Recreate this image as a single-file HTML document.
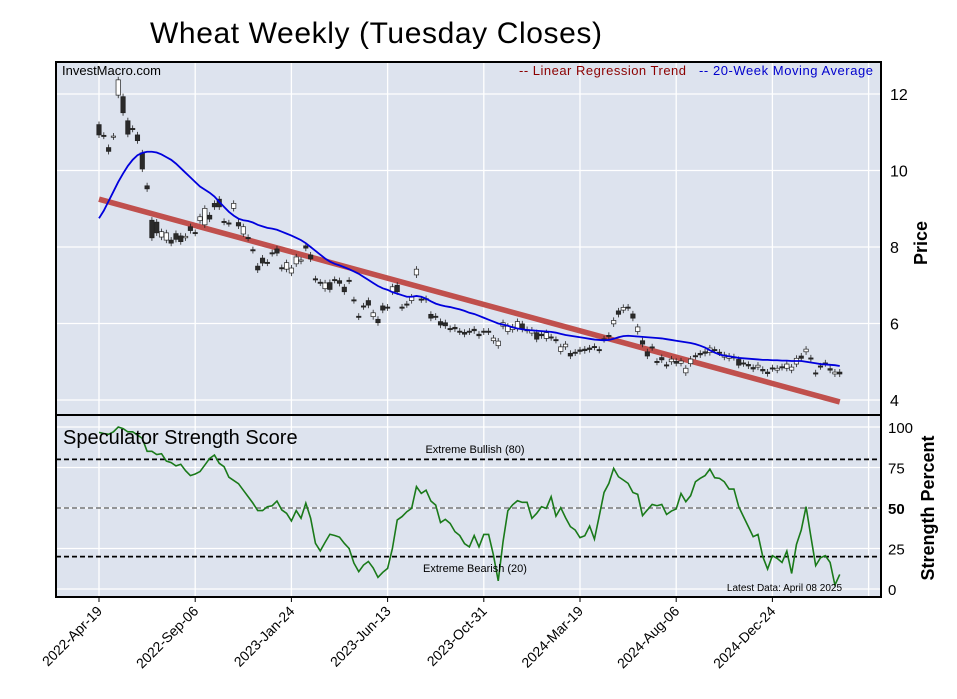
<!DOCTYPE html>
<html><head><meta charset="utf-8"><style>
body{margin:0;background:#fff;}
svg text{font-family:"Liberation Sans",sans-serif;}
</style></head><body>
<svg id="chart" width="957" height="694" xmlns="http://www.w3.org/2000/svg">
<text x="150" y="43" font-size="30" fill="#000" textLength="452">Wheat Weekly (Tuesday Closes)</text>
<g id="top">
<rect x="56" y="62" width="825" height="353" fill="#dde3ee"/>
<g id="topgrid"></g><g id="reg"></g><g id="candles"></g><g id="ma"></g>
<rect x="56" y="62" width="825" height="353" fill="none" stroke="#000" stroke-width="2"/>
<text x="62" y="75" font-size="13">InvestMacro.com</text>
<text x="519" y="75" font-size="13" fill="#8b0000" textLength="167">-- Linear Regression Trend</text>
<text x="699" y="75" font-size="13" fill="#0000cc" textLength="174">-- 20-Week Moving Average</text>
<text transform="translate(927,243) rotate(-90)" text-anchor="middle" font-size="18" font-weight="bold">Price</text>
</g>
<g id="bot">
<rect x="56" y="415" width="825" height="182" fill="#dde3ee"/>
<g id="botgrid"></g><g id="str"></g>
<rect x="56" y="415" width="825" height="182" fill="none" stroke="#000" stroke-width="2"/>
<text x="63" y="444" font-size="20">Speculator Strength Score</text>
<text x="475" y="453" font-size="11" text-anchor="middle">Extreme Bullish (80)</text>
<text x="475" y="572" font-size="11" text-anchor="middle">Extreme Bearish (20)</text>
<text x="842" y="591" font-size="10" text-anchor="end">Latest Data: April 08 2025</text>
<text transform="translate(934,508) rotate(-90)" text-anchor="middle" font-size="18" font-weight="bold">Strength Percent</text>
</g>
<g id="xaxis"></g>
</svg>
<script>
const xLabels=["2022-Apr-19","2022-Sep-06","2023-Jan-24","2023-Jun-13","2023-Oct-31","2024-Mar-19","2024-Aug-06","2024-Dec-24"];
const xLabelWeeks=[0,20,40,60,80,100,120,140];
const priceTicks=[4,6,8,10,12];
const strengthTicks=[0,25,50,75,100];
const opens=[11.2,10.92,10.6,10.88,11.97,11.93,11.3,11.1,10.93,10.46,9.6,8.7,8.65,8.26,8.18,8.18,8.35,8.29,8.24,8.53,8.38,8.69,8.58,8.83,9.14,9.25,8.67,8.63,9.01,8.64,8.34,8.25,7.93,7.5,7.71,7.6,7.85,7.95,7.46,7.42,7.32,7.56,7.63,8.03,7.79,7.17,7.08,6.91,7.07,7.15,7.12,6.95,7.13,6.62,6.19,6.46,6.6,6.18,6.11,6.46,6.43,6.83,7.0,6.43,6.51,6.6,7.27,6.64,6.62,6.24,6.19,6.05,6.02,5.87,5.9,5.8,5.77,5.8,5.85,5.72,5.8,5.8,5.55,5.42,5.93,5.79,5.84,5.87,5.99,5.84,5.75,5.76,5.72,5.61,5.65,5.58,5.27,5.39,5.22,5.25,5.31,5.33,5.36,5.4,5.32,5.6,5.69,5.99,6.33,6.35,6.43,6.25,5.79,5.55,5.26,5.39,5.01,5.11,4.92,5.0,5.01,4.96,4.71,4.95,5.16,5.22,5.26,5.24,5.32,5.25,5.12,5.09,5.13,5.06,4.97,4.93,4.85,4.86,4.8,4.73,4.84,4.78,4.87,4.83,4.78,4.94,5.15,5.26,5.1,4.71,4.89,4.97,4.82,4.68,4.73];
const closes=[10.93,10.9,10.5,10.9,12.37,11.51,10.95,11.08,10.78,10.04,9.52,8.24,8.37,8.4,8.37,8.1,8.2,8.14,8.28,8.43,8.36,8.79,9.01,8.73,9.05,9.05,8.65,8.61,9.14,8.55,8.53,8.23,7.91,7.4,7.58,7.58,7.83,7.84,7.44,7.59,7.45,7.74,7.66,7.97,7.69,7.15,7.06,7.06,6.89,7.13,7.05,6.83,7.11,6.6,6.17,6.44,6.48,6.28,6.02,6.35,6.41,6.96,6.83,6.41,6.49,6.69,7.42,6.62,6.65,6.14,6.17,5.96,5.94,5.85,5.86,5.78,5.72,5.78,5.81,5.68,5.78,5.78,5.62,5.54,6.02,5.93,5.91,6.05,5.85,5.82,5.83,5.59,5.68,5.76,5.63,5.56,5.39,5.46,5.15,5.23,5.27,5.29,5.32,5.38,5.3,5.58,5.67,6.08,6.24,6.42,6.41,6.14,5.91,5.46,5.15,5.37,4.99,5.05,4.9,5.07,4.96,5.02,4.83,5.07,5.14,5.18,5.22,5.36,5.3,5.23,5.18,5.15,5.11,4.91,4.95,4.89,4.81,4.91,4.76,4.69,4.82,4.83,4.85,4.94,4.86,5.09,5.09,5.33,5.08,4.69,4.87,4.95,4.78,4.73,4.68];
const maValues=[8.75,8.95,9.2,9.45,9.7,9.92,10.12,10.28,10.4,10.46,10.49,10.49,10.47,10.42,10.35,10.28,10.18,10.06,9.94,9.82,9.7,9.58,9.5,9.42,9.32,9.18,9.05,8.92,8.82,8.74,8.7,8.68,8.64,8.58,8.54,8.5,8.48,8.45,8.4,8.35,8.3,8.24,8.18,8.1,8.0,7.9,7.8,7.7,7.62,7.56,7.52,7.47,7.42,7.36,7.3,7.22,7.14,7.06,6.98,6.92,6.88,6.82,6.78,6.74,6.7,6.7,6.72,6.7,6.65,6.58,6.52,6.48,6.45,6.43,6.4,6.37,6.33,6.28,6.25,6.2,6.15,6.1,6.05,6.0,5.97,5.94,5.9,5.87,5.85,5.83,5.82,5.81,5.8,5.79,5.78,5.76,5.73,5.7,5.68,5.66,5.64,5.62,5.6,5.58,5.57,5.56,5.57,5.6,5.64,5.67,5.68,5.67,5.66,5.65,5.64,5.63,5.62,5.61,5.59,5.57,5.55,5.53,5.51,5.49,5.46,5.42,5.37,5.3,5.24,5.19,5.16,5.14,5.12,5.1,5.09,5.08,5.07,5.06,5.05,5.05,5.04,5.04,5.03,5.03,5.02,5.02,5.02,5.0,4.98,4.96,4.94,4.93,4.92,4.91,4.89];
const regressionEnds=[9.25,3.95];
const strength=[96.7,96,95.5,97,100,99,97,97,95,93,85,85,83,83.5,79,78,76,77,73,70,71,72.5,76.5,80.6,82.7,77.6,75.5,69,67,65,61,57,53,48.4,48.4,50.8,51.4,54.3,48.8,46.7,42,48.4,43.7,53,43.7,28.2,23.5,28.8,33.8,33,32,28.2,25,16,10.7,14.8,17,13,7.2,10.3,12.7,25,42.6,44.7,47.7,49.8,63.2,59,61,54.3,51.8,41,43,40.5,35.4,33,28,26,33,26,33.7,33.7,21,5,29.2,48.3,52,54.5,53.5,53.5,43.6,46.7,50.8,49.8,57,45,50.2,44,38.5,36.4,31.7,32.9,38.9,30.8,45,59.6,65.2,74.5,69.3,67.3,65.2,59.6,58.4,45.3,48.8,52.2,51.4,52.2,46,48.1,49.4,59,53.9,57.6,66.2,68.3,70,74,68.7,68.3,66.2,61.7,61.7,50.8,44.6,38.5,32.3,33.7,20,12.3,20.6,18.9,16.4,23.4,9.6,27.5,36.4,50.8,32.3,14.4,19.3,20.6,16.4,2.4,9];
const extremeLevels=[80,20];

const NS="http://www.w3.org/2000/svg";
const xs=i=>99+4.81*i;
const yp=p=>400-(p-4)*38.25;
const ys=s=>589-s*1.62;
function mk(parent,tag,attrs){const e=document.createElementNS(NS,tag);for(const k in attrs)e.setAttribute(k,attrs[k]);(typeof parent==='string'?document.getElementById(parent):parent).appendChild(e);return e;}
const svg=document.getElementById('chart');
xLabelWeeks.forEach((w,k)=>{
  let l=mk('topgrid','line',{x1:xs(w),x2:xs(w),y1:62,y2:415,stroke:'#fff','stroke-width':1.3});
  
  
  let l2=mk('botgrid','line',{x1:xs(w),x2:xs(w),y1:415,y2:597,stroke:'#fff','stroke-width':1.3});
  
  
  let t=mk('xaxis','text',{'font-size':14,'text-anchor':'end',transform:`translate(${xs(w)+4},${612}) rotate(-45)`});
  t.textContent=xLabels[k];
  
  
  let tk=mk('xaxis','line',{x1:xs(w),x2:xs(w),y1:597,y2:602,stroke:'#000'});
  
  
});
[xs(160)].forEach(x=>{mk('topgrid','line',{x1:x,x2:x,y1:62,y2:415,stroke:'#fff','stroke-width':1.3});mk('botgrid','line',{x1:x,x2:x,y1:415,y2:597,stroke:'#fff','stroke-width':1.3});});
priceTicks.forEach(p=>{
  let l=mk('topgrid','line',{x1:56,x2:881,y1:yp(p),y2:yp(p),stroke:'#fff','stroke-width':1.3});
  
  
  let t=mk(svg,'text',{x:890,y:yp(p)+6,'font-size':16});
  t.textContent=p;
  
  
});
strengthTicks.forEach(s=>{
  let l=mk('botgrid','line',{x1:56,x2:881,y1:ys(s),y2:ys(s),stroke:'#fff','stroke-width':1.3});
  
  
  let t=mk(svg,'text',{x:888,y:ys(s)+6,'font-size':15,'font-weight':s===50?'bold':'normal'});
  t.textContent=s;
  
  
});
let mid=mk('botgrid','line',{x1:56,x2:881,y1:ys(50),y2:ys(50),stroke:'#777','stroke-width':1.5,'stroke-dasharray':'5,3'});


extremeLevels.forEach(v=>{
  let l=mk('botgrid','line',{x1:56,x2:881,y1:ys(v),y2:ys(v),stroke:'#000','stroke-width':1.8,'stroke-dasharray':'5,3'});
  
  
});
let rg=mk('reg','line',{x1:xs(0),y1:yp(regressionEnds[0]),x2:xs(closes.length-1),y2:yp(regressionEnds[1]),stroke:'#c0504d','stroke-width':5.5});


closes.forEach((c,i)=>{
  const o=opens[i],hi=Math.max(o,c)+0.08,lo=Math.min(o,c)-0.08,x=xs(i);
  const g=mk('candles','g',{});
  
  
  mk(g,'line',{x1:x,x2:x,y1:yp(hi),y2:yp(lo),stroke:'#222','stroke-width':0.8});
  const top=yp(Math.max(o,c)),h=Math.max(1.2,Math.abs(yp(o)-yp(c)));
  mk(g,'rect',{x:x-2.2,y:top,width:4.4,height:h,fill:c>=o?'#fff':'#2a2a2a',stroke:'#222','stroke-width':0.7});
});
let ma=mk('ma','polyline',{points:maValues.map((v,i)=>xs(i)+','+yp(v)).join(' '),fill:'none',stroke:'#0000dd','stroke-width':1.8});


let sl=mk('str','polyline',{points:strength.map((v,i)=>xs(i)+','+ys(v)).join(' '),fill:'none',stroke:'#1a7a1a','stroke-width':1.6});


</script>
</body></html>
